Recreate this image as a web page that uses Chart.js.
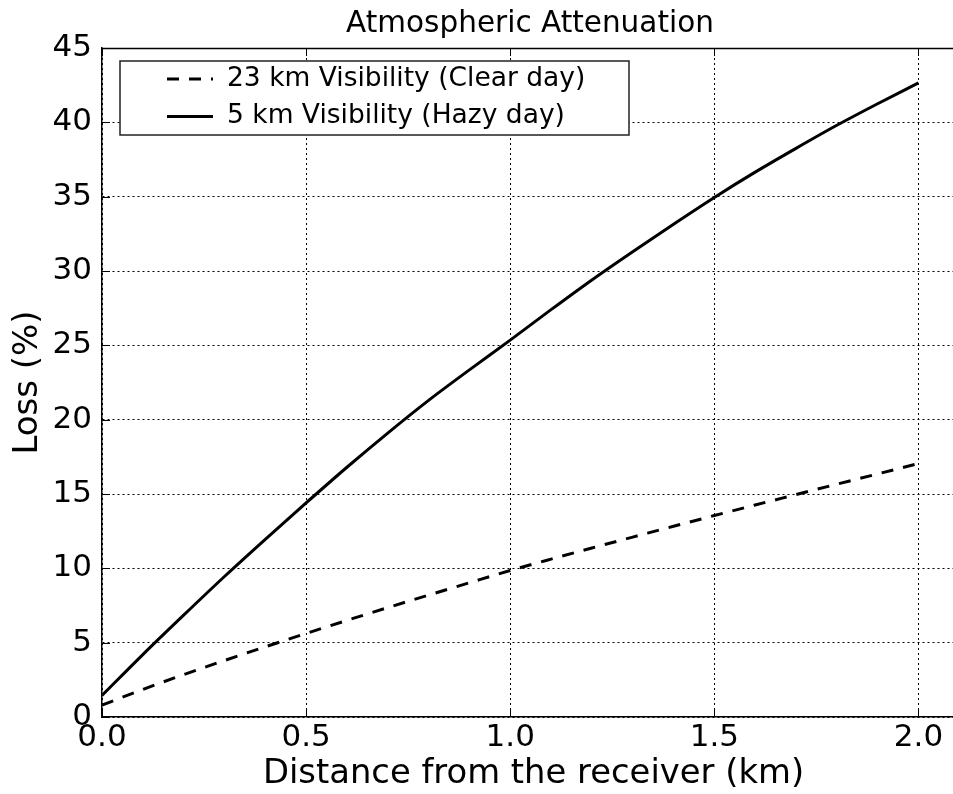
<!DOCTYPE html>
<html>
<head>
<meta charset="utf-8">
<title>Atmospheric Attenuation</title>
<script src="https://cdn.jsdelivr.net/npm/chart.js@4.4.1/dist/chart.umd.min.js"></script>
<style>
    html, body { margin: 0; padding: 0; background: #fff; overflow: hidden; }
    /* the reference crops the plot on the right, so the canvas is wider than the page */
    #wrap { width: 953px; height: 794px; overflow: hidden; }
</style>
</head>
<body>
<div id="wrap"><canvas id="lossChart" width="965" height="794"></canvas></div>
<script>
// values
const distances = [0.0, 0.1, 0.2, 0.3, 0.4, 0.5, 0.6, 0.7, 0.8, 0.9, 1.0,
                   1.1, 1.2, 1.3, 1.4, 1.5, 1.6, 1.7, 1.8, 1.9, 2.0];
const clearDayLoss = [0.8, 1.85, 2.85, 3.8, 4.72, 5.62, 6.5, 7.36, 8.2, 9.03, 9.85,
                      10.62, 11.37, 12.1, 12.83, 13.55, 14.26, 14.96, 15.66, 16.35, 17.05];
const hazyDayLoss = [1.45, 4.2, 6.85, 9.45, 11.95, 14.4, 16.8, 19.1, 21.3, 23.35, 25.35,
                     27.4, 29.4, 31.3, 33.15, 34.95, 36.65, 38.25, 39.8, 41.25, 42.65];
const seriesLabels = ['23 km Visibility (Clear day)', '5 km Visibility (Hazy day)'];
const xTicks = [0.0, 0.5, 1.0, 1.5, 2.0];
const yTicks = [0, 5, 10, 15, 20, 25, 30, 35, 40, 45];

const FONT = '"DejaVu Sans", "Bitstream Vera Sans", sans-serif';

function toPoints(xs, ys) {
    return xs.map((x, i) => ({ x: x, y: ys[i] }));
}

// grid only at the listed tick values
function gridColor(list) {
    return c => (c.tick && list.includes(c.tick.value)) ? '#000' : 'rgba(0,0,0,0)';
}

// top frame line and inward tick marks (matplotlib style)
const framePlugin = {
    id: 'framePlugin',
    beforeDatasetsDraw(chart) {
        const { ctx, chartArea, scales } = chart;
        const { left, right, top, bottom } = chartArea;
        ctx.save();
        ctx.strokeStyle = '#000';
        ctx.lineWidth = 1.5;
        ctx.setLineDash([]);
        ctx.beginPath();
        ctx.moveTo(left, top + 0.5);
        ctx.lineTo(right, top + 0.5);
        ctx.stroke();
        ctx.lineWidth = 1;
        ctx.beginPath();
        xTicks.forEach(v => {
            const px = Math.round(scales.x.getPixelForValue(v)) + 0.5;
            ctx.moveTo(px, bottom);
            ctx.lineTo(px, bottom - 8);
            ctx.moveTo(px, top);
            ctx.lineTo(px, top + 8);
        });
        yTicks.forEach(v => {
            const py = Math.round(scales.y.getPixelForValue(v)) + 0.5;
            ctx.moveTo(left, py);
            ctx.lineTo(left + 8, py);
        });
        ctx.stroke();
        ctx.restore();
    }
};

// title centred over the (cropped) plot area, and the boxed legend in the top left
const titleLegendPlugin = {
    id: 'titleLegendPlugin',
    afterDraw(chart) {
        const { ctx, chartArea } = chart;
        ctx.save();
        ctx.fillStyle = '#000';
        ctx.font = '29.5px ' + FONT;
        ctx.textAlign = 'center';
        ctx.textBaseline = 'middle';
        ctx.fillText('Atmospheric Attenuation', chartArea.left + 428, 24);

        const bx = chartArea.left + 18;
        const by = chartArea.top + 13;
        ctx.fillStyle = '#fff';
        ctx.fillRect(bx, by, 509, 74);
        ctx.strokeStyle = '#222';
        ctx.lineWidth = 1.5;
        ctx.strokeRect(bx, by, 509, 74);

        ctx.font = '26.5px ' + FONT;
        ctx.textAlign = 'left';
        chart.data.datasets.forEach((ds, i) => {
            const cy = by + 18 + i * 37.5;
            ctx.strokeStyle = ds.borderColor;
            ctx.lineWidth = ds.borderWidth;
            ctx.setLineDash(ds.borderDash || []);
            ctx.beginPath();
            ctx.moveTo(bx + 47, cy);
            ctx.lineTo(bx + 93, cy);
            ctx.stroke();
            ctx.setLineDash([]);
            ctx.fillStyle = '#000';
            ctx.fillText(ds.label, bx + 107, cy);
        });
        ctx.restore();
    }
};

const ctx = document.getElementById('lossChart');
new Chart(ctx, {
    type: 'line',
    data: {
        datasets: [
            {
                label: seriesLabels[0],
                data: toPoints(distances, clearDayLoss),
                borderColor: '#000',
                borderWidth: 3,
                borderDash: [12, 10],
                pointRadius: 0,
                fill: false,
                cubicInterpolationMode: 'monotone'
            },
            {
                label: seriesLabels[1],
                data: toPoints(distances, hazyDayLoss),
                borderColor: '#000',
                borderWidth: 3,
                pointRadius: 0,
                fill: false,
                cubicInterpolationMode: 'monotone'
            }
        ]
    },
    options: {
        responsive: false,
        animation: false,
        layout: {
            padding: { top: 48, right: 0, left: 0, bottom: 0 }
        },
        plugins: {
            legend: { display: false },
            title: { display: false },
            tooltip: { enabled: false }
        },
        scales: {
            x: {
                type: 'linear',
                min: 0,
                max: 2.114,
                afterFit: scale => { scale.height = 77; },
                afterBuildTicks: scale => { scale.ticks = xTicks.map(v => ({ value: v })); },
                grid: {
                    color: gridColor(xTicks),
                    lineWidth: 1,
                    drawTicks: false
                },
                border: {
                    display: true,
                    color: '#000',
                    width: 1.5,
                    dash: [2, 3]
                },
                ticks: {
                    color: '#000',
                    padding: 2,
                    maxRotation: 0,
                    includeBounds: false,
                    font: { family: FONT, size: 31 },
                    callback: v => v.toFixed(1)
                },
                title: {
                    display: true,
                    text: 'Distance from the receiver (km)',
                    color: '#000',
                    font: { family: FONT, size: 33.8 },
                    padding: { top: 0, bottom: 0 }
                }
            },
            y: {
                type: 'linear',
                min: 0,
                max: 45,
                afterFit: scale => { scale.width = 102; },
                afterBuildTicks: scale => { scale.ticks = yTicks.map(v => ({ value: v })); },
                grid: {
                    color: gridColor(yTicks),
                    lineWidth: 1,
                    drawTicks: false
                },
                border: {
                    display: true,
                    color: '#000',
                    width: 1.5,
                    dash: [2, 3]
                },
                ticks: {
                    color: '#000',
                    padding: 10,
                    font: { family: FONT, size: 31 }
                },
                title: {
                    display: true,
                    text: 'Loss (%)',
                    color: '#000',
                    font: { family: FONT, size: 34 },
                    padding: { top: 8, bottom: 0 }
                }
            }
        }
    },
    plugins: [framePlugin, titleLegendPlugin]
});
</script>
</body>
</html>
